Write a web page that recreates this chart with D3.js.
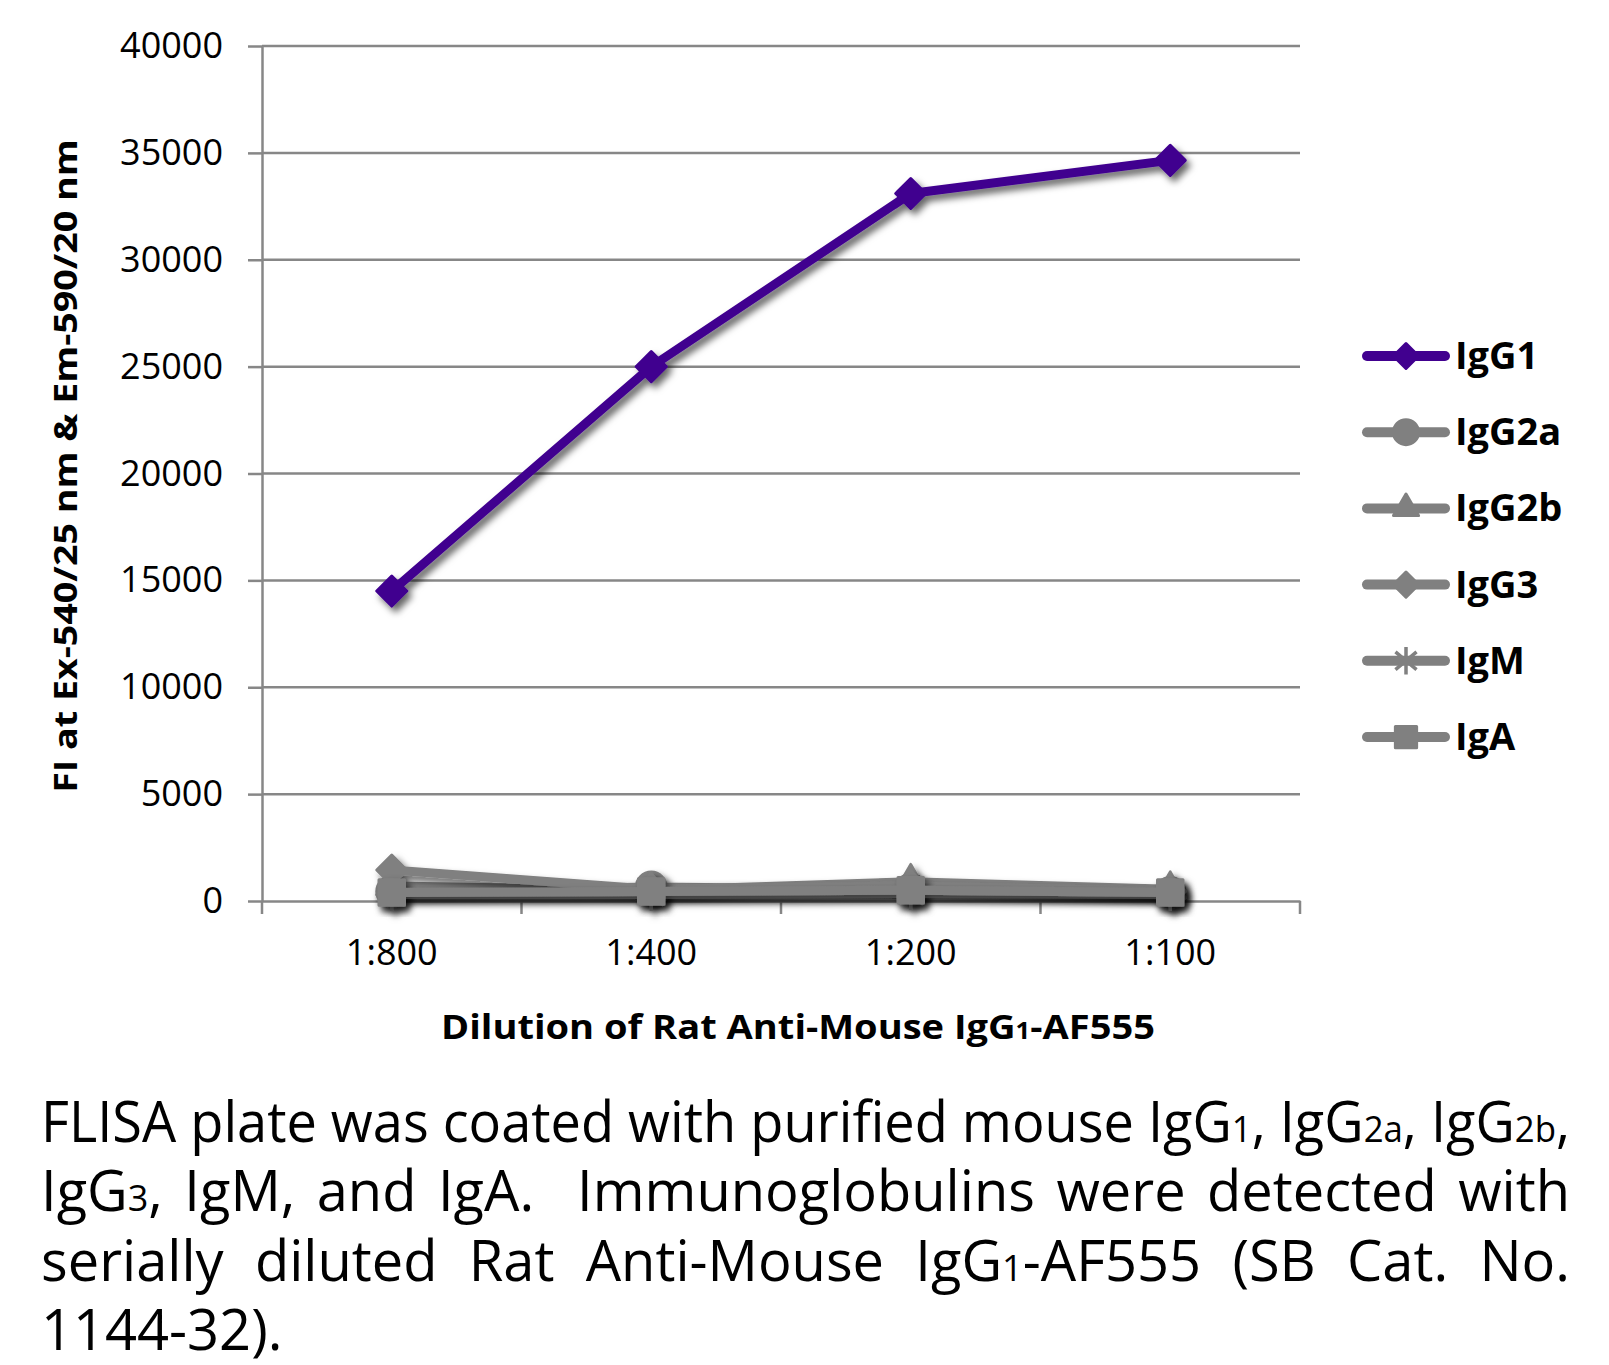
<!DOCTYPE html>
<html><head><meta charset="utf-8">
<script src="https://cdn.jsdelivr.net/npm/d3@7"></script>
<style>
body{margin:0;background:#fff}
svg{display:block}
text{font-family:"Open Sans","Noto Sans",sans-serif;fill:#000}
</style>
</head><body>
<svg id="chart" width="1609" height="1365"></svg>
<script>
// ---------- data ----------
const categories = ["1:800", "1:400", "1:200", "1:100"];
const seriesNames = ["IgG1", "IgG2a", "IgG2b", "IgG3", "IgM", "IgA"];
const valuesIgG1  = [14500, 25000, 33100, 34650];
const valuesIgG2a = [450, 650, 550, 400];
const valuesIgG2b = [700, 500, 900, 550];
const valuesIgG3  = [1450, 550, 700, 450];
const valuesIgM   = [300, 300, 350, 300];
const valuesIgA   = [400, 450, 500, 400];
const yTickValues = [0, 5000, 10000, 15000, 20000, 25000, 30000, 35000, 40000];
const yTitle = "FI at Ex-540/25 nm & Em-590/20 nm";
const xTitleParts = [["Dilution of Rat Anti-Mouse IgG", false], ["1", true], ["-AF555", false]];
const captionLines = [
  "FLISA plate was coated with purified mouse IgG{1}, IgG{2a}, IgG{2b},",
  "IgG{3}, IgM, and IgA.  Immunoglobulins were detected with",
  "serially diluted Rat Anti-Mouse IgG{1}-AF555 (SB Cat. No.",
  "1144-32)."
];

// ---------- styles ----------
const purple = "#41008f";
const gray = "#808080";
const series = [
  {name: seriesNames[0], values: valuesIgG1,  color: purple, sym: "diamond"},
  {name: seriesNames[1], values: valuesIgG2a, color: gray,   sym: "circle"},
  {name: seriesNames[2], values: valuesIgG2b, color: gray,   sym: "triangle"},
  {name: seriesNames[3], values: valuesIgG3,  color: gray,   sym: "diamond"},
  {name: seriesNames[4], values: valuesIgM,   color: gray,   sym: "star"},
  {name: seriesNames[5], values: valuesIgA,   color: gray,   sym: "square"}
];

const svg = d3.select("#chart");
const defs = svg.append("defs");
const f = defs.append("filter").attr("id","shadow")
  .attr("x","-20%").attr("y","-20%").attr("width","140%").attr("height","160%");
f.append("feDropShadow").attr("dx",4).attr("dy",5).attr("stdDeviation",3.5)
  .attr("flood-color","#000").attr("flood-opacity",0.6);

const L = 262, R = 1300, T = 46, B = 901;
const x = d3.scaleBand().domain(categories).range([L, R]);
const y = d3.scaleLinear().domain([0, 40000]).range([B, T]);
const cx = c => x(c) + x.bandwidth() / 2;
const axisColor = "#878787";

// gridlines
svg.append("g").selectAll("line").data(yTickValues.filter(v => v > 0)).join("line")
  .attr("x1", L).attr("x2", R).attr("y1", d => y(d)).attr("y2", d => y(d))
  .attr("stroke", axisColor).attr("stroke-width", 2.5);

// y axis
const yAxis = svg.append("g").attr("transform", `translate(${L},0)`)
  .call(d3.axisLeft(y).tickValues(yTickValues).tickSize(14).tickSizeOuter(0).tickPadding(25).tickFormat(d3.format("d")));
yAxis.select(".domain").attr("stroke", axisColor).attr("stroke-width", 2.5);
yAxis.selectAll(".tick line").attr("stroke", axisColor).attr("stroke-width", 2.5);
yAxis.selectAll(".tick text").style("font-family", '"Open Sans",sans-serif').style("font-size", "36px").attr("fill", "#000");

// x axis
const xAxis = svg.append("g").attr("transform", `translate(0,${B})`)
  .call(d3.axisBottom(x).tickSize(0).tickSizeOuter(0).tickPadding(38));
xAxis.select(".domain").attr("stroke", axisColor).attr("stroke-width", 2.5);
xAxis.selectAll(".tick text").style("font-family", '"Open Sans",sans-serif').style("font-size", "36px").attr("fill", "#000");
const bounds = categories.map(c => x(c)).concat([x(categories[categories.length - 1]) + x.bandwidth()]);
svg.append("g").selectAll("line").data(bounds).join("line")
  .attr("x1", d => d).attr("x2", d => d).attr("y1", B).attr("y2", B + 13)
  .attr("stroke", axisColor).attr("stroke-width", 2.5);

// symbols
function starPath(s) {
  const p = d3.path();
  p.moveTo(0, -s); p.lineTo(0, s);
  const a = 50 * Math.PI / 180;
  const dx = s * Math.sin(a), dy = s * Math.cos(a);
  p.moveTo(-dx, -dy); p.lineTo(dx, dy);
  p.moveTo(dx, -dy); p.lineTo(-dx, dy);
  return p.toString();
}
function symPath(type, s) {
  if (type === "star") return starPath(s * 1.1);
  const map = {
    diamond: [d3.symbolDiamond2, Math.pow(s / 0.62625, 2)],
    circle: [d3.symbolCircle, Math.PI * s * s],
    triangle: [d3.symbolTriangle, Math.pow(2 * s, 2) * Math.sqrt(3) / 4],
    square: [d3.symbolSquare, Math.pow(1.7 * s, 2)]
  };
  const [t, size] = map[type];
  return d3.symbol().type(t).size(size)();
}
function drawSym(g, type, color, s) {
  const p = g.append("path").attr("d", symPath(type, s));
  if (type === "star") p.attr("fill", "none").attr("stroke", color).attr("stroke-width", 3.5);
  else p.attr("fill", color).attr("stroke", color).attr("stroke-width", 3).attr("stroke-linejoin", "round");
}

const line = d3.line().x((d, i) => cx(categories[i])).y(d => y(d));

series.forEach(s => {
  const g = svg.append("g").attr("filter", "url(#shadow)");
  g.append("path").attr("d", line(s.values)).attr("fill", "none")
    .attr("stroke", s.color).attr("stroke-width", 9)
    .attr("stroke-linejoin", "round").attr("stroke-linecap", "round");
  s.values.forEach((v, i) => {
    const mg = g.append("g").attr("transform", `translate(${cx(categories[i])},${y(v)})`);
    drawSym(mg, s.sym, s.color, 15);
  });
});

// legend
const legY0 = 356, legStep = 76.2;
series.forEach((s, i) => {
  const gy = legY0 + i * legStep;
  const g = svg.append("g").attr("transform", `translate(0,${gy})`);
  g.append("line").attr("x1", 1367).attr("x2", 1445).attr("y1", 0).attr("y2", 0)
    .attr("stroke", s.color).attr("stroke-width", 10).attr("stroke-linecap", "round");
  const mg = g.append("g").attr("transform", "translate(1406,0)");
  drawSym(mg, s.sym, s.color, 12.5);
  g.append("text").attr("x", 1455).attr("y", 13).text(s.name)
    .style("font-size", "38px").style("font-weight", "700");
});

// helper: horizontally fit
function fitX(sel, anchorX, target) {
  const w = sel.node().getBBox().width;
  const k = target / w;
  sel.attr("transform", `translate(${anchorX},0) scale(${k},1) translate(${-anchorX},0)`);
}

// y title
const yt = svg.append("g").attr("transform", "translate(77,466) rotate(-90)")
  .append("text").attr("text-anchor", "middle").attr("x", 0).attr("y", 0)
  .style("font-size", "33px").style("font-weight", "700").text(yTitle);
fitX(yt, 0, 654);

// x title
const xt = svg.append("text").attr("x", 441).attr("y", 1039)
  .style("font-size", "34px").style("font-weight", "700");
xTitleParts.forEach(([t, sub]) => xt.append("tspan").text(t).style("font-size", sub ? "23px" : "34px"));
fitX(xt, 441, 714);

// caption (justified)
const capLeft = 41, capRight = 1570, capBase = [1142, 1211, 1281, 1350], capFS = 56, subFS = 36;
captionLines.forEach((ln, li) => {
  const tokens = ln.split(" ");
  const words = [];
  let pendingGaps = 0;
  tokens.forEach(t => {
    if (t === "") { pendingGaps += 1; return; }
    words.push({w: t, gaps: words.length ? pendingGaps + 1 : 0});
    pendingGaps = 0;
  });
  const g = svg.append("g");
  const nodes = words.map(o => {
    const t = g.append("text").attr("y", capBase[li]).style("font-size", capFS + "px");
    o.w.split(/(\{[^}]*\})/).filter(p => p.length).forEach(p => {
      if (p[0] === "{") t.append("tspan").text(p.slice(1, -1)).style("font-size", subFS + "px");
      else t.append("tspan").text(p);
    });
    return t;
  });
  const widths = nodes.map(n => n.node().getComputedTextLength());
  const sum = d3.sum(widths);
  const units = d3.sum(words, o => o.gaps);
  const target = capRight - capLeft;
  const last = li === captionLines.length - 1;
  const minGap = 14;
  let k = 1, gap;
  if (last) { gap = 15; }
  else {
    if (sum + minGap * units > target) k = (target - minGap * units) / sum;
    gap = (target - sum * k) / units;
  }
  let cur = capLeft;
  nodes.forEach((n, i) => {
    cur += words[i].gaps * gap;
    n.attr("x", 0).attr("transform", `translate(${cur},0) scale(${k},1)`);
    cur += widths[i] * k;
  });
});
</script>
</body></html>
